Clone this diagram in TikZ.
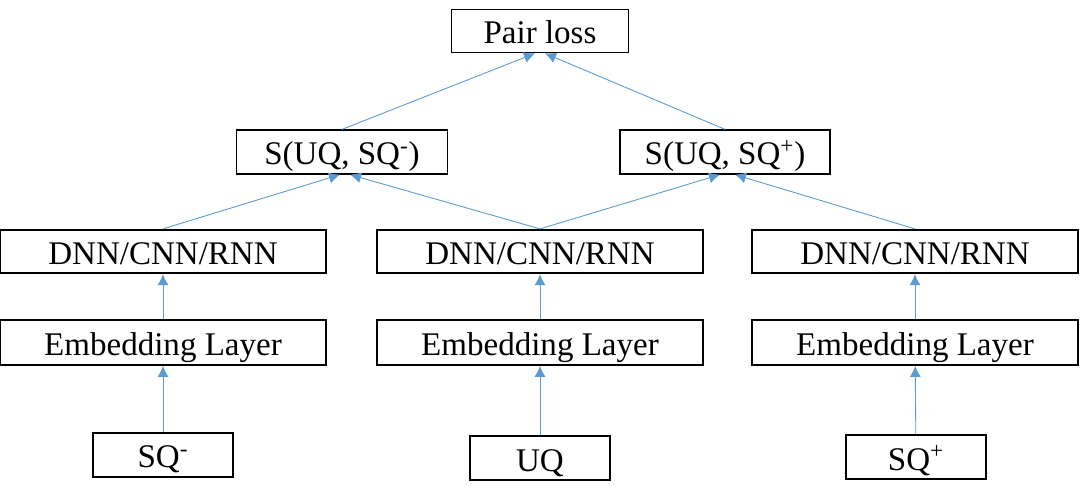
\documentclass[tikz,border=0pt]{standalone}
\usepackage{fontspec}
\setmainfont{Liberation Serif}
\usepackage{xcolor}
\usetikzlibrary{arrows.meta}
\definecolor{arrblue}{RGB}{91,155,213}

\begin{document}
\begin{tikzpicture}[x=0.02cm,y=-0.02cm,
    box/.style={draw,line width=1pt,inner sep=0pt,text height=0.52cm,text depth=0cm,font=\fontsize{18.8}{22}\selectfont},
    wide/.style={box,minimum width=6.52cm,minimum height=0.87cm},
    small/.style={box,minimum width=2.8cm,minimum height=0.89cm},
    arr/.style={-{Latex[length=0.22cm,width=0.22cm]},draw=arrblue,line width=0.5pt}]
            \useasboundingbox (0,0) rectangle (1080,497);
            % top
            \node[box,minimum width=3.54cm,minimum height=0.86cm] (loss) at (540,31) {Pair loss};
            \node[box,minimum width=4.22cm,minimum height=0.87cm] (sneg) at (342,152) {S(UQ, SQ\textsuperscript{-})};
            \node[box,minimum width=4.2cm,minimum height=0.87cm] (spos) at (725,152) {S(UQ, SQ\textsuperscript{+})};
            % three towers
            \node[wide] (dnnl) at (163,251.5) {DNN/CNN/RNN};
            \node[wide] (dnnm) at (540,251.5) {DNN/CNN/RNN};
            \node[wide] (dnnr) at (915,251.5) {DNN/CNN/RNN};
            \node[wide,minimum height=0.9cm] (embl) at (163,342.5) {Embedding Layer};
            \node[wide,minimum height=0.9cm] (embm) at (540,342.5) {Embedding Layer};
            \node[wide,minimum height=0.9cm] (embr) at (915,342.5) {Embedding Layer};
            \node[small] (sqn) at (163,455) {SQ\textsuperscript{-}};
            \node[small] (uq) at (540,458) {UQ};
            \node[small] (sqp) at (916,457) {SQ\textsuperscript{+}};
            % arrows
            \draw[arr] (sqn) -- (embl);
            \draw[arr] (uq) -- (embm);
            \draw[arr] (sqp) -- (embr);
            \draw[arr] (embl) -- (dnnl);
            \draw[arr] (embm) -- (dnnm);
            \draw[arr] (embr) -- (dnnr);
            \draw[arr] (dnnl.north) -- ([xshift=-0.04cm]sneg.south);
            \draw[arr] (dnnm.north) -- ([xshift=0.16cm]sneg.south);
            \draw[arr] (dnnm.north) -- ([xshift=-0.1cm]spos.south);
            \draw[arr] (dnnr.north) -- ([xshift=0.2cm]spos.south);
            \draw[arr] (sneg.north) -- ([xshift=-0.1cm]loss.south);
            \draw[arr] (spos.north) -- ([xshift=0.1cm]loss.south);
\end{tikzpicture}
\end{document}
